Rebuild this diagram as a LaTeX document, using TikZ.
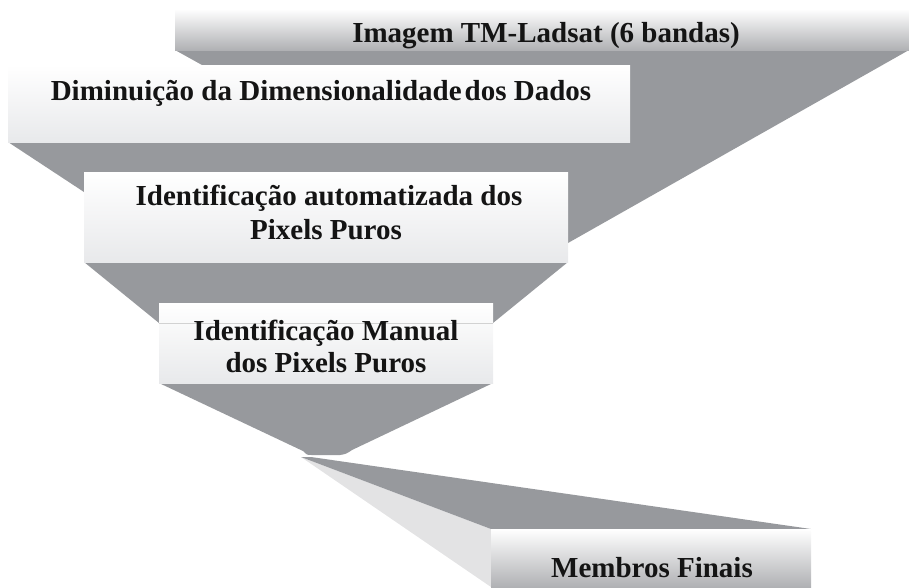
\documentclass[tikz,border=0pt]{standalone}
\usepackage{fontspec}
\setmainfont{Liberation Serif}
\usetikzlibrary{calc}
\pgfdeclarelayer{background}
\pgfsetlayers{background,main}
\definecolor{shadowgray}{RGB}{151,153,157}
\definecolor{facegray}{RGB}{227,227,228}
\definecolor{lowgray}{RGB}{232,233,235}
\definecolor{darklow}{RGB}{176,177,180}
\begin{document}
\begin{tikzpicture}[x=1pt,y=-1pt,
  box/.style={rectangle, inner sep=0pt, outer sep=0pt, draw=none},
  softbox/.style={box, top color=white, bottom color=lowgray},
  darkbox/.style={box, top color=white, bottom color=darklow},
  txt/.style={inner sep=0pt, anchor=base, font=\bfseries\fontsize{29}{33}\selectfont, text=black!92},
  shadowfill/.style={fill=shadowgray, draw=none},
  sidefill/.style={fill=facegray, draw=none}
]
\useasboundingbox (0,0) rectangle (909,587);

% boxes
\node[darkbox, minimum width=734pt, minimum height=41pt] (b1) at (542,29.5) {};
\node[softbox, minimum width=622pt, minimum height=77pt] (b2) at (319,103.5) {};
\node[softbox, minimum width=484pt, minimum height=90pt] (b3) at (326,217) {};
\node[softbox, minimum width=334pt, minimum height=80pt] (b4) at (326,343) {};
\node[darkbox, minimum width=320pt, minimum height=58pt] (b5) at (651,558) {};

% faint line across box 4
\draw[gray!35, line width=0.6pt] ($(b4.north west)+(0,20)$) -- ($(b4.north east)+(0,20)$);

% texts
\node[txt] (t1) at (546,42) {Imagem TM-Ladsat (6 bandas)};
\node[txt] (t2) at (321,100) {Diminuição da Dimensionalidade\hspace{3pt}dos Dados};
\node[txt] (t3a) at (329,205) {Identificação automatizada dos};
\node[txt] (t3b) at (326,239) {Pixels Puros};
\node[txt] (t4a) at (326,340) {Identificação Manual};
\node[txt] (t4b) at (326,372) {dos Pixels Puros};
\node[txt] (t5) at (652,577) {Membros Finais};

% funnel shadows
\begin{pgfonlayer}{background}
  \fill[shadowfill] (b1.south west) -- (b1.south east) -- (568,243) -- (300,172) -- (202,65) -- cycle;
  \fill[shadowfill] (b2.south west) -- (b2.south east) -- (568,192) -- (84,192) -- cycle;
  \fill[shadowfill] (b3.south west) -- (b3.south east) -- (493,323) -- (159,323) -- cycle;
  \fill[shadowfill] (b4.south west) -- (b4.south east) -- (352,450)
        .. controls (346,454) .. (340,455) -- (312,455)
        .. controls (307,455) .. (303,451) -- cycle;
  \coordinate (apex) at (301,457);
  \fill[sidefill] (apex) -- (b5.north west) -- (b5.south west) -- cycle;
  \fill[shadowfill] (apex) -- ($(apex)+(10,0)$) -- (b5.north east) -- (b5.north west) -- cycle;
\end{pgfonlayer}
\end{tikzpicture}
\end{document}
